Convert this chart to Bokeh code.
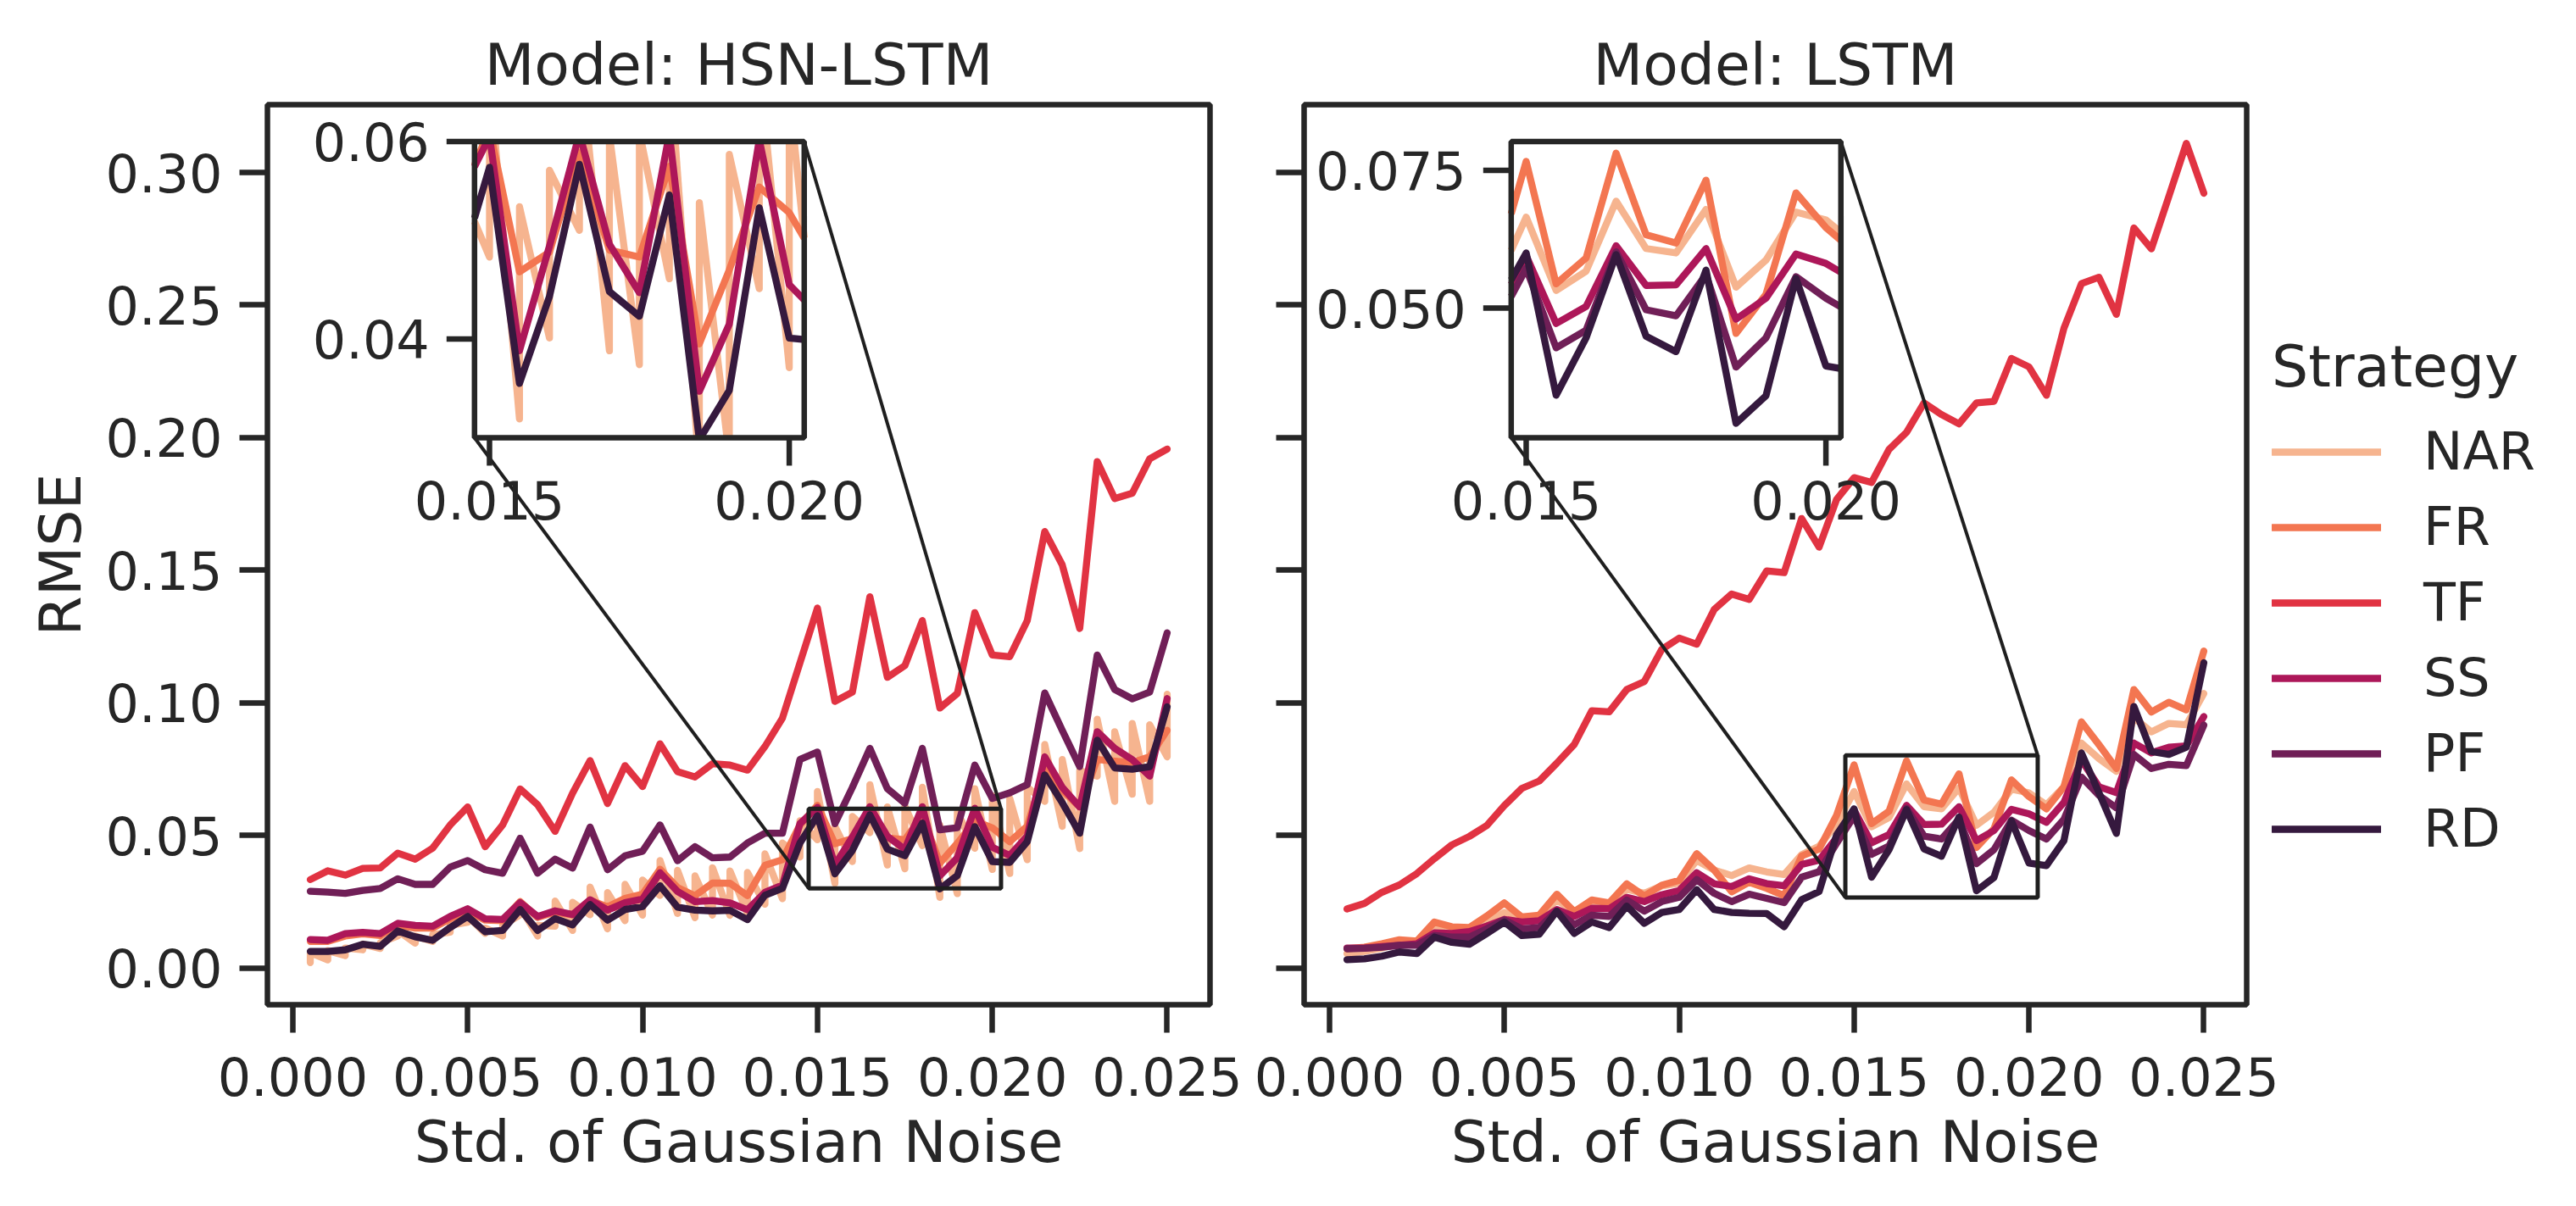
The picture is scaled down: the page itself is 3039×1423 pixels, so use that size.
import math
from bokeh.plotting import figure
from bokeh.models import (Range1d, FixedTicker, NumeralTickFormatter,
                          CustomJSTickFormatter, Legend, LegendItem)
from bokeh.layouts import row
from bokeh.embed import file_html
from bokeh.resources import INLINE
from bokeh.core.properties import value

# ---------------------------------------------------------------- data
noise_std = [0.0005, 0.0010, 0.0015, 0.0020, 0.0025, 0.0030, 0.0035, 0.0040, 0.0045, 0.0050,
             0.0055, 0.0060, 0.0065, 0.0070, 0.0075, 0.0080, 0.0085, 0.0090, 0.0095, 0.0100,
             0.0105, 0.0110, 0.0115, 0.0120, 0.0125, 0.0130, 0.0135, 0.0140, 0.0145, 0.0150,
             0.0155, 0.0160, 0.0165, 0.0170, 0.0175, 0.0180, 0.0185, 0.0190, 0.0195, 0.0200,
             0.0205, 0.0210, 0.0215, 0.0220, 0.0225, 0.0230, 0.0235, 0.0240, 0.0245, 0.0250]

strategies = ["NAR", "FR", "TF", "SS", "PF", "RD"]
colors = ["#f6b48f", "#f37651", "#e13342", "#ad1759", "#701f57", "#35193e"]
model_titles = ["Model: HSN-LSTM", "Model: LSTM"]

# HSN-LSTM: NAR has two runs per noise level (low / high)
hsn_nar_lo = [0.0020, 0.0030, 0.0046, 0.0068, 0.0073, 0.0120, 0.0093, 0.0100, 0.0135, 0.0172,
              0.0130, 0.0120, 0.0200, 0.0120, 0.0157, 0.0141, 0.0200, 0.0147, 0.0178, 0.0199,
              0.0273, 0.0205, 0.0189, 0.0199, 0.0198, 0.0205, 0.0240, 0.0261, 0.0418, 0.0483,
              0.0319, 0.0401, 0.0510, 0.0388, 0.0374, 0.0461, 0.0266, 0.0280, 0.0451, 0.0371,
              0.0356, 0.0408, 0.0628, 0.0534, 0.0450, 0.0723, 0.0628, 0.0655, 0.0628, 0.0796]
hsn_nar_hi = [0.0057, 0.0065, 0.0075, 0.0090, 0.0095, 0.0140, 0.0120, 0.0125, 0.0160, 0.0195,
              0.0150, 0.0160, 0.0230, 0.0160, 0.0252, 0.0247, 0.0305, 0.0284, 0.0315, 0.0331,
              0.0405, 0.0368, 0.0347, 0.0378, 0.0366, 0.0360, 0.0430, 0.0471, 0.0555, 0.0665,
              0.0534, 0.0571, 0.0691, 0.0607, 0.0610, 0.0681, 0.0538, 0.0587, 0.0676, 0.0649,
              0.0639, 0.0681, 0.0843, 0.0786, 0.0744, 0.0938, 0.0891, 0.0922, 0.0917, 0.1032]
hsn_fr = [0.0100, 0.0100, 0.0120, 0.0128, 0.0122, 0.0160, 0.0150, 0.0150, 0.0185, 0.0215,
          0.0180, 0.0178, 0.0250, 0.0190, 0.0210, 0.0200, 0.0255, 0.0230, 0.0262, 0.0278,
          0.0372, 0.0303, 0.0272, 0.0320, 0.0319, 0.0272, 0.0387, 0.0408, 0.0539, 0.0613,
          0.0468, 0.0488, 0.0589, 0.0490, 0.0483, 0.0575, 0.0395, 0.0470, 0.0554, 0.0528,
          0.0476, 0.0534, 0.0754, 0.0670, 0.0607, 0.0786, 0.0780, 0.0775, 0.0796, 0.0896]
hsn_tf = [0.0333, 0.0366, 0.0350, 0.0375, 0.0377, 0.0433, 0.0410, 0.0452, 0.0539, 0.0607,
          0.0457, 0.0539, 0.0675, 0.0615, 0.0515, 0.0659, 0.0782, 0.0620, 0.0763, 0.0684,
          0.0845, 0.0740, 0.0720, 0.0770, 0.0765, 0.0746, 0.0835, 0.0942, 0.1150, 0.1357,
          0.1005, 0.1040, 0.1400, 0.1096, 0.1140, 0.1310, 0.0980, 0.1035, 0.1340, 0.1180,
          0.1174, 0.1310, 0.1646, 0.1520, 0.1280, 0.1910, 0.1770, 0.1790, 0.1920, 0.1957]
hsn_ss = [0.0107, 0.0104, 0.0129, 0.0134, 0.0129, 0.0168, 0.0160, 0.0157, 0.0194, 0.0223,
          0.0185, 0.0183, 0.0246, 0.0194, 0.0215, 0.0201, 0.0257, 0.0218, 0.0246, 0.0260,
          0.0359, 0.0288, 0.0250, 0.0254, 0.0245, 0.0219, 0.0285, 0.0312, 0.0544, 0.0605,
          0.0388, 0.0494, 0.0608, 0.0496, 0.0447, 0.0608, 0.0347, 0.0415, 0.0602, 0.0455,
          0.0424, 0.0497, 0.0796, 0.0681, 0.0607, 0.0891, 0.0828, 0.0786, 0.0723, 0.1016]
hsn_pf = [0.0289, 0.0286, 0.0281, 0.0292, 0.0299, 0.0336, 0.0315, 0.0315, 0.0380, 0.0405,
          0.0370, 0.0357, 0.0489, 0.0357, 0.0410, 0.0376, 0.0531, 0.0370, 0.0423, 0.0440,
          0.0539, 0.0404, 0.0457, 0.0415, 0.0418, 0.0471, 0.0508, 0.0508, 0.0786, 0.0814,
          0.0544, 0.0681, 0.0828, 0.0676, 0.0621, 0.0828, 0.0521, 0.0529, 0.0765, 0.0639,
          0.0660, 0.0691, 0.1037, 0.0896, 0.0759, 0.1180, 0.1050, 0.1015, 0.1040, 0.1264]
hsn_rd = [0.0062, 0.0062, 0.0068, 0.0089, 0.0081, 0.0139, 0.0117, 0.0104, 0.0152, 0.0194,
          0.0136, 0.0141, 0.0220, 0.0141, 0.0186, 0.0162, 0.0239, 0.0180, 0.0220, 0.0231,
          0.0310, 0.0229, 0.0218, 0.0215, 0.0217, 0.0182, 0.0274, 0.0300, 0.0471, 0.0574,
          0.0355, 0.0443, 0.0577, 0.0448, 0.0423, 0.0546, 0.0298, 0.0348, 0.0533, 0.0401,
          0.0398, 0.0476, 0.0728, 0.0623, 0.0508, 0.0859, 0.0754, 0.0749, 0.0759, 0.0985]

lstm_nar = [0.0054, 0.0062, 0.0075, 0.0091, 0.0096, 0.0147, 0.0142, 0.0142, 0.0173, 0.0209,
            0.0183, 0.0194, 0.0256, 0.0214, 0.0245, 0.0240, 0.0297, 0.0281, 0.0309, 0.0320,
            0.0405, 0.0369, 0.0348, 0.0377, 0.0362, 0.0352, 0.0427, 0.0459, 0.0544, 0.0665,
            0.0532, 0.0567, 0.0694, 0.0608, 0.0600, 0.0679, 0.0538, 0.0587, 0.0674, 0.0660,
            0.0615, 0.0683, 0.0848, 0.0789, 0.0741, 0.0944, 0.0890, 0.0922, 0.0917, 0.1035]
lstm_fr = [0.0072, 0.0078, 0.0091, 0.0106, 0.0101, 0.0173, 0.0155, 0.0152, 0.0196, 0.0245,
           0.0192, 0.0199, 0.0278, 0.0212, 0.0256, 0.0245, 0.0317, 0.0271, 0.0312, 0.0330,
           0.0431, 0.0369, 0.0287, 0.0323, 0.0300, 0.0272, 0.0422, 0.0448, 0.0576, 0.0766,
           0.0544, 0.0591, 0.0781, 0.0633, 0.0618, 0.0732, 0.0454, 0.0525, 0.0709, 0.0646,
           0.0600, 0.0683, 0.0928, 0.0842, 0.0752, 0.1050, 0.0965, 0.1002, 0.0973, 0.1195]
lstm_tf = [0.0222, 0.0243, 0.0285, 0.0313, 0.0356, 0.0412, 0.0464, 0.0496, 0.0537, 0.0612,
           0.0677, 0.0705, 0.0772, 0.0843, 0.0970, 0.0966, 0.1050, 0.1080, 0.1201, 0.1244,
           0.1221, 0.1352, 0.1410, 0.1390, 0.1497, 0.1491, 0.1695, 0.1587, 0.1767, 0.1849,
           0.1831, 0.1956, 0.2020, 0.2131, 0.2087, 0.2052, 0.2131, 0.2137, 0.2299, 0.2267,
           0.2160, 0.2413, 0.2581, 0.2605, 0.2465, 0.2791, 0.2712, 0.2910, 0.3110, 0.2922]
lstm_ss = [0.0075, 0.0075, 0.0080, 0.0085, 0.0091, 0.0132, 0.0130, 0.0137, 0.0158, 0.0183,
           0.0173, 0.0178, 0.0220, 0.0194, 0.0225, 0.0223, 0.0266, 0.0250, 0.0276, 0.0292,
           0.0359, 0.0317, 0.0307, 0.0336, 0.0318, 0.0310, 0.0390, 0.0406, 0.0491, 0.0595,
           0.0472, 0.0503, 0.0613, 0.0541, 0.0542, 0.0608, 0.0480, 0.0518, 0.0598, 0.0581,
           0.0549, 0.0624, 0.0784, 0.0683, 0.0661, 0.0848, 0.0811, 0.0832, 0.0837, 0.0948]
lstm_pf = [0.0072, 0.0074, 0.0078, 0.0085, 0.0085, 0.0122, 0.0116, 0.0116, 0.0147, 0.0181,
           0.0147, 0.0152, 0.0214, 0.0163, 0.0199, 0.0194, 0.0256, 0.0214, 0.0250, 0.0266,
           0.0333, 0.0281, 0.0250, 0.0278, 0.0262, 0.0246, 0.0342, 0.0363, 0.0470, 0.0572,
           0.0428, 0.0460, 0.0602, 0.0497, 0.0486, 0.0561, 0.0393, 0.0446, 0.0557, 0.0518,
           0.0486, 0.0560, 0.0720, 0.0651, 0.0603, 0.0805, 0.0752, 0.0768, 0.0763, 0.0916]
lstm_rd = [0.0031, 0.0034, 0.0044, 0.0060, 0.0054, 0.0116, 0.0096, 0.0089, 0.0130, 0.0173,
           0.0122, 0.0127, 0.0214, 0.0130, 0.0173, 0.0152, 0.0233, 0.0168, 0.0209, 0.0220,
           0.0295, 0.0220, 0.0209, 0.0206, 0.0205, 0.0155, 0.0257, 0.0288, 0.0502, 0.0600,
           0.0342, 0.0446, 0.0597, 0.0449, 0.0421, 0.0569, 0.0291, 0.0341, 0.0554, 0.0395,
           0.0386, 0.0480, 0.0811, 0.0661, 0.0507, 0.0986, 0.0816, 0.0805, 0.0832, 0.1151]

x_ticks = [0.000, 0.005, 0.010, 0.015, 0.020, 0.025]
y_ticks = [0.00, 0.05, 0.10, 0.15, 0.20, 0.25, 0.30]

# zoomed windows (x-limits, y-limits) and their tick labels
inset_xlim = (0.01475, 0.02025)
hsn_inset_ylim = (0.030, 0.060)
lstm_inset_ylim = (0.0265, 0.0802)
inset_xticks = [0.015, 0.020]
inset_xlabels = ["0.015", "0.020"]
hsn_inset_yticks = [0.04, 0.06]
hsn_inset_ylabels = ["0.04", "0.06"]
lstm_inset_yticks = [0.050, 0.075]
lstm_inset_ylabels = ["0.050", "0.075"]

# ---------------------------------------------------------------- style
TEXT = "#262626"
FONT = "DejaVu Sans"
TICK_FS = "62px"
LABEL_FS = "68px"
LW = 8.3
TICK_LEN = 33
X_RANGE = (-0.000725, 0.026225)
Y_RANGE = (-0.0139, 0.3256)
FRAME_W, FRAME_H = 1112, 1062
INSET_FX = (0.2197, 0.5695)
INSET_FY = (0.630, 0.959)


def clip_polyline(xs, ys, x0, x1, y0, y1):
    """Liang-Barsky clipping of a polyline against a box; returns pieces."""
    pieces = []
    cx, cy = [], []
    for k in range(len(xs) - 1):
        ax, ay, bx, by = xs[k], ys[k], xs[k + 1], ys[k + 1]
        dx, dy = bx - ax, by - ay
        t0, t1 = 0.0, 1.0
        ok = True
        for pp, qq in ((-dx, ax - x0), (dx, x1 - ax), (-dy, ay - y0), (dy, y1 - ay)):
            if pp == 0:
                if qq < 0:
                    ok = False
                    break
            else:
                r = qq / pp
                if pp < 0:
                    if r > t1:
                        ok = False
                        break
                    t0 = max(t0, r)
                else:
                    if r < t0:
                        ok = False
                        break
                    t1 = min(t1, r)
        if not ok:
            if cx:
                pieces.append((cx, cy))
                cx, cy = [], []
            continue
        sx, sy = ax + t0 * dx, ay + t0 * dy
        ex, ey = ax + t1 * dx, ay + t1 * dy
        if cx and t0 == 0.0:
            cx.append(ex)
            cy.append(ey)
        else:
            if cx:
                pieces.append((cx, cy))
            cx, cy = [sx, ex], [sy, ey]
        if t1 < 1.0:
            pieces.append((cx, cy))
            cx, cy = [], []
    if cx:
        pieces.append((cx, cy))
    return pieces


def make_panel(title, series, inset_ylim, inset_yticks, inset_ylabels,
               inset_names, first):
    p = figure(frame_width=FRAME_W, frame_height=FRAME_H,
               x_range=Range1d(*X_RANGE), y_range=Range1d(*Y_RANGE),
               output_backend="svg", toolbar_location=None,
               min_border_left=315 if first else 62,
               min_border_right=49 if first else 375,
               min_border_top=123, min_border_bottom=225,
               title=title)
    p.background_fill_color = "white"
    p.border_fill_color = "white"
    p.outline_line_color = TEXT
    p.outline_line_width = 6.5
    p.grid.visible = False

    p.title.align = "center"
    p.title.text_font = FONT
    p.title.text_font_size = LABEL_FS
    p.title.text_font_style = "normal"
    p.title.text_color = TEXT
    p.title.standoff = 16

    for ax in (p.xaxis[0], p.yaxis[0]):
        ax.axis_line_color = None
        ax.major_tick_out = TICK_LEN
        ax.major_tick_in = 0
        ax.major_tick_line_width = 6.5
        ax.major_tick_line_color = TEXT
        ax.minor_tick_line_color = None
        ax.major_label_text_font = FONT
        ax.major_label_text_font_size = TICK_FS
        ax.major_label_text_color = TEXT
        ax.axis_label_text_font = FONT
        ax.axis_label_text_font_size = LABEL_FS
        ax.axis_label_text_font_style = "normal"
        ax.axis_label_text_color = TEXT
    p.xaxis.ticker = FixedTicker(ticks=x_ticks)
    p.xaxis.formatter = NumeralTickFormatter(format="0.000")
    p.xaxis.axis_label = "Std. of Gaussian Noise"
    p.xaxis.major_label_standoff = 28
    p.xaxis.axis_label_standoff = 12
    p.yaxis.ticker = FixedTicker(ticks=y_ticks)
    p.yaxis.major_label_standoff = 20
    if first:
        p.yaxis.formatter = NumeralTickFormatter(format="0.00")
        p.yaxis.axis_label = "RMSE"
        p.yaxis.axis_label_standoff = 10
    else:
        p.yaxis.formatter = CustomJSTickFormatter(code="return ''")

    renderers = {}
    for name, xs, ys, col in series:
        renderers[name] = p.line(xs, ys, line_color=col, line_width=LW,
                                 line_join="round", line_cap="round")

    # inset geometry
    ix0, ix1 = inset_xlim
    iy0, iy1 = inset_ylim
    xw = X_RANGE[1] - X_RANGE[0]
    yh = Y_RANGE[1] - Y_RANGE[0]
    bx0 = X_RANGE[0] + INSET_FX[0] * xw
    bx1 = X_RANGE[0] + INSET_FX[1] * xw
    by0 = Y_RANGE[0] + INSET_FY[0] * yh
    by1 = Y_RANGE[0] + INSET_FY[1] * yh

    # indicator rectangle + connectors in main data space
    p.quad(left=[ix0], right=[ix1], bottom=[iy0], top=[iy1], fill_color=None,
           line_color="#1f1f1f", line_width=5)
    p.segment(x0=[bx0, bx1], y0=[by0, by1], x1=[ix0, ix1], y1=[iy0, iy1],
              line_color="#1f1f1f", line_width=4)
    p.quad(left=[bx0], right=[bx1], bottom=[by0], top=[by1],
           fill_color="white", line_color=None)

    # extra ranges that map the zoom window into the inset box
    sx = (ix1 - ix0) / (INSET_FX[1] - INSET_FX[0])
    ax0 = ix0 - INSET_FX[0] * sx
    sy = (iy1 - iy0) / (INSET_FY[1] - INSET_FY[0])
    ay0 = iy0 - INSET_FY[0] * sy
    p.extra_x_ranges = {"ix": Range1d(ax0, ax0 + sx)}
    p.extra_y_ranges = {"iy": Range1d(ay0, ay0 + sy)}

    for name, xs, ys, col in series:
        if name not in inset_names:
            continue
        pieces = clip_polyline(xs, ys, ix0, ix1, iy0, iy1)
        if not pieces:
            continue
        p.multi_line([pc[0] for pc in pieces], [pc[1] for pc in pieces],
                     line_color=col, line_width=LW, line_join="round",
                     line_cap="butt", x_range_name="ix", y_range_name="iy")

    p.quad(left=[ix0], right=[ix1], bottom=[iy0], top=[iy1], fill_color=None,
           line_color=TEXT, line_width=6.5, x_range_name="ix", y_range_name="iy")
    # inset ticks
    p.ray(x=[ix0] * len(inset_yticks), y=inset_yticks, length=TICK_LEN,
          length_units="screen", angle=math.pi, line_color=TEXT, line_width=6.5,
          x_range_name="ix", y_range_name="iy")
    p.ray(x=inset_xticks, y=[iy0] * len(inset_xticks), length=TICK_LEN,
          length_units="screen", angle=-math.pi / 2, line_color=TEXT,
          line_width=6.5, x_range_name="ix", y_range_name="iy")
    p.text(x=[ix0] * len(inset_yticks), y=inset_yticks, text=inset_ylabels,
           x_offset=-53, text_align="right", text_baseline="middle",
           text_font=value(FONT), text_font_size=TICK_FS, text_color=TEXT,
           x_range_name="ix", y_range_name="iy")
    p.text(x=inset_xticks, y=[iy0] * len(inset_xticks), text=inset_xlabels,
           y_offset=51, text_align="center", text_baseline="top",
           text_font=value(FONT), text_font_size=TICK_FS, text_color=TEXT,
           x_range_name="ix", y_range_name="iy")
    return p, renderers


nar_x = [x for x in noise_std for _ in range(2)]
nar_y = [v for pair in zip(hsn_nar_lo, hsn_nar_hi) for v in pair]
hsn_series = [("NAR", nar_x, nar_y, colors[0]),
              ("FR", noise_std, hsn_fr, colors[1]),
              ("TF", noise_std, hsn_tf, colors[2]),
              ("SS", noise_std, hsn_ss, colors[3]),
              ("PF", noise_std, hsn_pf, colors[4]),
              ("RD", noise_std, hsn_rd, colors[5])]
lstm_vals = [lstm_nar, lstm_fr, lstm_tf, lstm_ss, lstm_pf, lstm_rd]
lstm_series = [(s, noise_std, v, c) for s, v, c in zip(strategies, lstm_vals, colors)]

p1, _ = make_panel(model_titles[0], hsn_series, hsn_inset_ylim, hsn_inset_yticks,
                   hsn_inset_ylabels, ["NAR", "FR", "SS", "RD"], True)
p2, r2 = make_panel(model_titles[1], lstm_series, lstm_inset_ylim, lstm_inset_yticks,
                    lstm_inset_ylabels, ["NAR", "FR", "TF", "SS", "PF", "RD"], False)

legend = Legend(items=[LegendItem(label=s, renderers=[r2[s]]) for s in strategies],
                location=(30, 171), title="Strategy",
                label_text_font=FONT, label_text_font_size=TICK_FS,
                label_text_color=TEXT, title_text_font=FONT,
                title_text_font_size=LABEL_FS, title_text_font_style="normal",
                title_text_color=TEXT, glyph_width=129, glyph_height=62,
                label_height=62, spacing=16, padding=0, margin=0,
                label_standoff=50, title_standoff=24,
                border_line_color=None, background_fill_alpha=0)
p2.add_layout(legend, "right")

layout = row(p1, p2)
open("out.html", "w").write(file_html(layout, INLINE))
